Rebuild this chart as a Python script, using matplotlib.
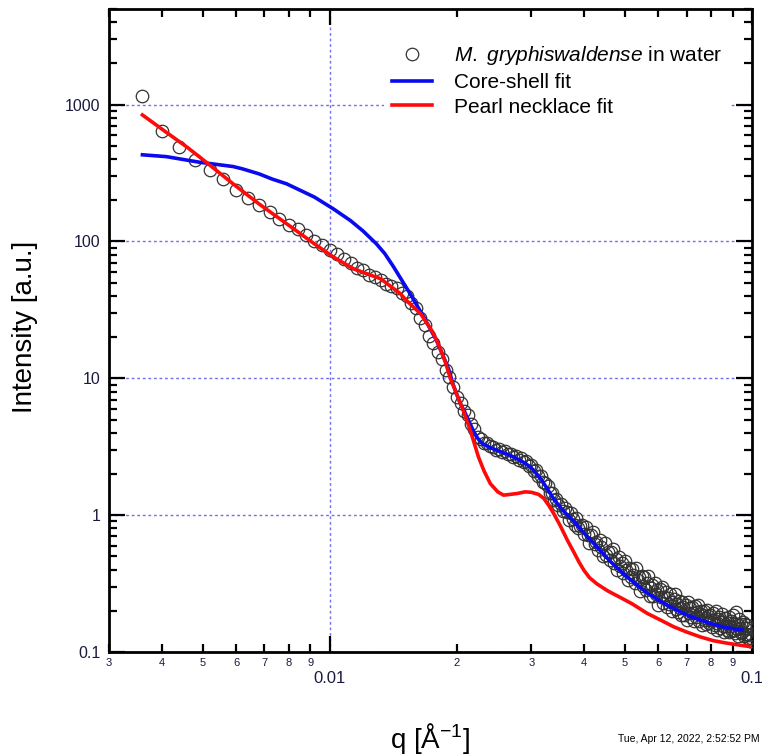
import numpy as np
import matplotlib
matplotlib.use("Agg")
import matplotlib.pyplot as plt
from matplotlib.ticker import FixedLocator, FixedFormatter, LogLocator, NullFormatter

plt.rcParams['font.family'] = ['Liberation Sans', 'DejaVu Sans']
plt.rcParams['mathtext.fontset'] = 'custom'
plt.rcParams['mathtext.rm'] = 'Liberation Sans'
plt.rcParams['mathtext.it'] = 'Liberation Sans:italic'

# measured SAXS data (q in 1/A, intensity a.u.)
q_data = [
    0.0036, 0.0040, 0.0044, 0.0048, 0.0052, 0.0056, 0.0060, 0.0064, 0.0068, 0.0072,
    0.0076, 0.0080, 0.0084, 0.0088, 0.0092, 0.0096, 0.0100, 0.0104, 0.0108, 0.0112,
    0.0116, 0.0120, 0.0124, 0.0128, 0.0132, 0.0136, 0.0140, 0.0144, 0.0148, 0.0152,
    0.0156, 0.0160, 0.0164, 0.0168, 0.0172, 0.0176, 0.0180, 0.0184, 0.0188, 0.0192,
    0.0196, 0.0200, 0.0204, 0.0208, 0.0212, 0.0216, 0.0220, 0.0224, 0.0228, 0.0232,
    0.0236, 0.0240, 0.0244, 0.0248, 0.0252, 0.0256, 0.0260, 0.0264, 0.0268, 0.0272,
    0.0276, 0.0280, 0.0284, 0.0288, 0.0292, 0.0296, 0.0300, 0.0304, 0.0308, 0.0312,
    0.0316, 0.0320, 0.0324, 0.0328, 0.0332, 0.0336, 0.0340, 0.0344, 0.0348, 0.0352,
    0.0356, 0.0360, 0.0364, 0.0368, 0.0372, 0.0376, 0.0380, 0.0384, 0.0388, 0.0392,
    0.0396, 0.0400, 0.0404, 0.0408, 0.0412, 0.0416, 0.0420, 0.0424, 0.0428, 0.0432,
    0.0436, 0.0440, 0.0444, 0.0448, 0.0452, 0.0456, 0.0460, 0.0464, 0.0468, 0.0472,
    0.0476, 0.0480, 0.0484, 0.0488, 0.0492, 0.0496, 0.0500, 0.0504, 0.0508, 0.0512,
    0.0516, 0.0520, 0.0524, 0.0528, 0.0532, 0.0536, 0.0540, 0.0544, 0.0548, 0.0552,
    0.0556, 0.0560, 0.0564, 0.0568, 0.0572, 0.0576, 0.0580, 0.0584, 0.0588, 0.0592,
    0.0596, 0.0600, 0.0604, 0.0608, 0.0612, 0.0616, 0.0620, 0.0624, 0.0628, 0.0632,
    0.0636, 0.0640, 0.0644, 0.0648, 0.0652, 0.0656, 0.0660, 0.0664, 0.0668, 0.0672,
    0.0676, 0.0680, 0.0684, 0.0688, 0.0692, 0.0696, 0.0700, 0.0704, 0.0708, 0.0712,
    0.0716, 0.0720, 0.0724, 0.0728, 0.0732, 0.0736, 0.0740, 0.0744, 0.0748, 0.0752,
    0.0756, 0.0760, 0.0764, 0.0768, 0.0772, 0.0776, 0.0780, 0.0784, 0.0788, 0.0792,
    0.0796, 0.0800, 0.0804, 0.0808, 0.0812, 0.0816, 0.0820, 0.0824, 0.0828, 0.0832,
    0.0836, 0.0840, 0.0844, 0.0848, 0.0852, 0.0856, 0.0860, 0.0864, 0.0868, 0.0872,
    0.0876, 0.0880, 0.0884, 0.0888, 0.0892, 0.0896, 0.0900, 0.0904, 0.0908, 0.0912,
    0.0916, 0.0920, 0.0924, 0.0928, 0.0932, 0.0936, 0.0940, 0.0944, 0.0948, 0.0952,
    0.0956, 0.0960, 0.0964, 0.0968, 0.0972, 0.0976, 0.0980, 0.0984, 0.0988, 0.0992,
    0.0996,
]
I_data = [
    1163, 640, 494, 392, 334, 284, 238, 208, 186, 163,
    147, 132, 124, 112, 101, 94, 86.5, 80.5, 74.5, 69.5,
    64.5, 61.5, 57, 55, 52.5, 49, 47.5, 45.5, 42, 40,
    35.5, 32.5, 27.5, 24.5, 20.5, 18.2, 15.6, 13.8, 11.6, 10.3,
    8.7, 7.3, 6.6, 5.8, 5.4, 4.65, 4.25, 3.75, 3.6, 3.35,
    3.35, 3.18, 3.15, 3.0, 3.02, 2.88, 2.92, 2.78, 2.82, 2.68,
    2.72, 2.55, 2.6, 2.44, 2.5, 2.3, 2.33, 2.12, 2.15, 1.93,
    1.94, 1.74, 1.72, 1.62, 1.46, 1.45, 1.30, 1.31, 1.18, 1.2,
    1.08, 1.12, 1.05, 0.92, 1.03, 0.94, 0.85, 0.95, 0.81, 0.83,
    0.85, 0.73, 0.82, 0.72, 0.63, 0.72, 0.75, 0.62, 0.64, 0.56,
    0.655, 0.587, 0.50, 0.63, 0.515, 0.54, 0.47, 0.54, 0.57, 0.446,
    0.478, 0.40, 0.496, 0.425, 0.448, 0.377, 0.466, 0.396, 0.335, 0.411,
    0.352, 0.407, 0.368, 0.317, 0.41, 0.336, 0.356, 0.28, 0.357, 0.305,
    0.355, 0.286, 0.317, 0.359, 0.255, 0.294, 0.309, 0.255, 0.319, 0.266,
    0.284, 0.222, 0.289, 0.254, 0.299, 0.23, 0.254, 0.275, 0.214, 0.249,
    0.225, 0.266, 0.233, 0.199, 0.243, 0.265, 0.205, 0.225, 0.195, 0.236,
    0.211, 0.187, 0.233, 0.213, 0.187, 0.22, 0.172, 0.231, 0.194, 0.208,
    0.181, 0.213, 0.194, 0.168, 0.216, 0.181, 0.197, 0.22, 0.169, 0.188,
    0.198, 0.158, 0.187, 0.2, 0.17, 0.178, 0.159, 0.204, 0.183, 0.162,
    0.185, 0.17, 0.152, 0.192, 0.172, 0.158, 0.198, 0.162, 0.146, 0.174,
    0.18, 0.15, 0.167, 0.189, 0.154, 0.167, 0.139, 0.177, 0.156, 0.144,
    0.163, 0.179, 0.139, 0.156, 0.168, 0.143, 0.185, 0.146, 0.162, 0.137,
    0.195, 0.148, 0.158, 0.132, 0.175, 0.15, 0.137, 0.161, 0.14, 0.167,
    0.132, 0.16, 0.149, 0.135, 0.158, 0.126, 0.15, 0.134, 0.121, 0.136,
    0.126,
]

# core-shell model fit
q_cs = [0.0036, 0.0041, 0.0049, 0.0059, 0.0062, 0.0068, 0.0073, 0.0079, 0.0092, 0.0102,
        0.0112, 0.0120, 0.0129, 0.0135, 0.01415, 0.0155, 0.0167, 0.0179, 0.0191,
        0.0196, 0.0200, 0.0204, 0.0208, 0.0212, 0.0216, 0.0220, 0.0224, 0.0228,
        0.0232, 0.0240, 0.0250, 0.0260, 0.0270, 0.0280, 0.0290, 0.0300, 0.0310, 0.0320,
        0.0330, 0.0340, 0.0350, 0.0360, 0.0370, 0.0380, 0.0390, 0.0400, 0.0420, 0.0440,
        0.0460, 0.0480, 0.0500, 0.0530, 0.0560, 0.0600, 0.0640, 0.0680, 0.0720, 0.0760,
        0.0800, 0.0850, 0.0900, 0.0947]
I_cs = [430, 417, 380, 353, 340, 312, 286, 264, 211, 173,
        142, 119, 96, 81.5, 65.5, 41.5, 28, 18.9, 11.8,
        9.0, 7.6, 6.5, 5.8, 5.1, 4.5, 4.0, 3.65, 3.42,
        3.28, 3.12, 2.96, 2.83, 2.70, 2.55, 2.40, 2.22, 1.98, 1.74,
        1.50, 1.30, 1.16, 1.05, 0.97, 0.89, 0.81, 0.74, 0.63, 0.54,
        0.465, 0.41, 0.365, 0.315, 0.275, 0.24, 0.214, 0.195, 0.18, 0.17,
        0.161, 0.153, 0.148, 0.145]

# pearl necklace model fit
q_pn = [0.0036, 0.0041, 0.0046, 0.0051, 0.0059, 0.0068, 0.0079, 0.0092, 0.0102, 0.0114,
        0.0132, 0.0147, 0.0152, 0.0164, 0.0175, 0.0182, 0.0188, 0.0193, 0.0200, 0.02055,
        0.0215, 0.0225, 0.0232, 0.0240, 0.0250, 0.0258, 0.0268, 0.0278, 0.0290, 0.0300,
        0.0312, 0.0321, 0.0330, 0.0339, 0.0352, 0.0365, 0.0378, 0.0390, 0.0400, 0.0412,
        0.0429, 0.0455, 0.0488, 0.0520, 0.0564, 0.0610, 0.0652, 0.0700, 0.0754, 0.0810,
        0.0873, 0.0940, 0.1000]
I_pn = [841, 628, 487, 379, 264, 188, 135, 96, 77, 63,
        53.4, 41.5, 37, 29.7, 22, 17, 13, 10, 7.6, 6.2,
        4.2, 2.66, 2.1, 1.70, 1.48, 1.40, 1.42, 1.44, 1.48, 1.47,
        1.42, 1.33, 1.18, 1.03, 0.83, 0.66, 0.54, 0.45, 0.395, 0.35,
        0.315, 0.28, 0.25, 0.225, 0.192, 0.17, 0.153, 0.14, 0.129, 0.121,
        0.116, 0.112, 0.109]

fig = plt.figure(figsize=(7.62, 7.55), dpi=100)
ax = fig.add_axes([109/762, 1-652/755, (752-109)/762, (652-9)/755])

ax.plot(q_data, I_data, 'o', mfc='none', mec='#333333', ms=9, mew=0.9,
        label=r'$\it{M.\ gryphiswaldense}$ in water', zorder=3)
ax.plot(q_cs, I_cs, '-', color='#0a0af0', lw=2.6, label='Core-shell fit', zorder=4)
ax.plot(q_pn, I_pn, '-', color='#ff0a0a', lw=2.6, label='Pearl necklace fit', zorder=4)

ax.set_xscale('log')
ax.set_yscale('log')
ax.set_xlim(0.003, 0.1)
ax.set_ylim(0.1, 5000)

# x ticks: majors with big labels, minors with small digit labels
ax.xaxis.set_major_locator(FixedLocator([0.01, 0.1]))
ax.xaxis.set_major_formatter(FixedFormatter(['0.01', '0.1']))
xminor = [0.003, 0.004, 0.005, 0.006, 0.007, 0.008, 0.009,
          0.02, 0.03, 0.04, 0.05, 0.06, 0.07, 0.08, 0.09]
xminor_lab = ['3', '4', '5', '6', '7', '8', '9', '2', '3', '4', '5', '6', '7', '8', '9']
ax.xaxis.set_minor_locator(FixedLocator(xminor))
ax.xaxis.set_minor_formatter(FixedFormatter(xminor_lab))

ax.yaxis.set_major_locator(FixedLocator([0.1, 1, 10, 100, 1000]))
ax.yaxis.set_major_formatter(FixedFormatter(['0.1', '1', '10', '100', '1000']))
ax.yaxis.set_minor_locator(LogLocator(base=10, subs=range(2, 10), numticks=20))
ax.yaxis.set_minor_formatter(NullFormatter())

ax.tick_params(which='both', direction='in', top=True, right=True, width=1.6, colors='black')
ax.tick_params(which='major', length=11.5)
ax.tick_params(which='minor', length=5.5)
ax.tick_params(axis='x', which='major', labelsize=12, pad=14, labelcolor='#1a1a40')
ax.tick_params(axis='x', which='minor', labelsize=8, pad=4, labelcolor='#1a1a40')
ax.tick_params(axis='y', which='major', labelsize=11.5, pad=6, labelcolor='#1a1a40')

for s in ax.spines.values():
    s.set_linewidth(2)

ax.grid(True, which='major', color='#7070ee', linestyle=(0, (2, 2)), linewidth=1)
ax.set_axisbelow(True)

leg = ax.legend(loc='upper left', bbox_to_anchor=(384/762, 1-36/755),
                bbox_transform=fig.transFigure, fontsize=15, frameon=True,
                handlelength=1.9, handletextpad=1.05, labelspacing=0.27,
                borderpad=0.4, borderaxespad=0, fancybox=False)
leg.get_frame().set_edgecolor('none')
leg.get_frame().set_facecolor('white')
leg.get_frame().set_alpha(1)

fig.text(25/762, 1-327/755, 'Intensity [a.u.]', rotation=90, fontsize=20,
         ha='center', va='center')
fig.text(430/762, 1-738/755, r'q [Å$^{-1}$]', fontsize=20, ha='center', va='center')
fig.text(760/762, 1-739/755, 'Tue, Apr 12, 2022, 2:52:52 PM', fontsize=7.5,
         ha='right', va='center')

fig.savefig('out.png', dpi=100)
